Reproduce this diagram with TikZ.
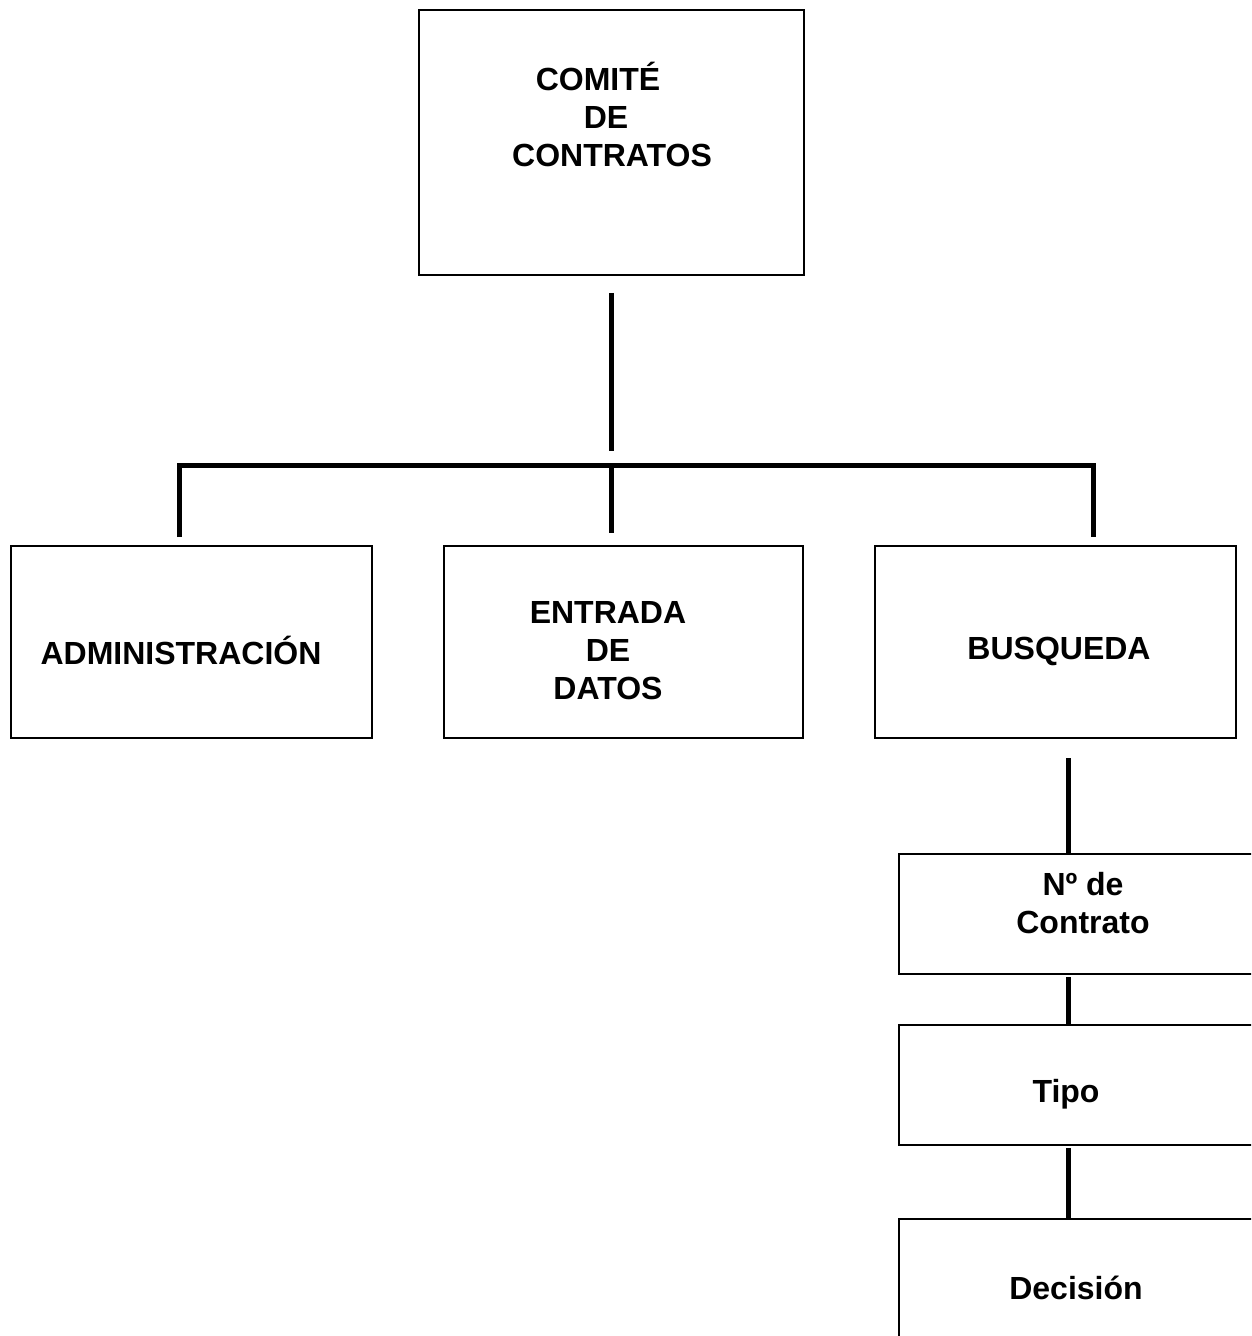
\documentclass[tikz,border=0pt]{standalone}
\usepackage{fontspec}
\setmainfont{Liberation Sans}
\usetikzlibrary{calc}

\begin{document}
\begin{tikzpicture}[
  x=0.5pt, y=-0.5pt,
  box/.style={draw=black, line width=0.8pt, rectangle, inner sep=0pt, fill=white},
  label/.style={font=\bfseries\fontsize{16pt}{19pt}\selectfont, align=center, inner sep=0pt},
  conn/.style={draw=black, line width=2.5pt, line join=miter}
]
  \useasboundingbox (0,0) rectangle (1251,1336);
  \clip (0,0) rectangle (1251,1336);
  \fill[white] (0,0) rectangle (1251,1336);

  % boxes
  \node[box, minimum width=385*0.5pt, minimum height=265*0.5pt] (comite) at (611.5,142.5) {};
  \node[box, minimum width=361*0.5pt, minimum height=192*0.5pt] (admin) at (191.5,642) {};
  \node[box, minimum width=359*0.5pt, minimum height=192*0.5pt] (entrada) at (623.5,642) {};
  \node[box, minimum width=361*0.5pt, minimum height=192*0.5pt] (busqueda) at (1055.5,642) {};
  \node[box, minimum width=369*0.5pt, minimum height=120*0.5pt] (contrato) at (1083.5,914) {};
  \node[box, minimum width=369*0.5pt, minimum height=120*0.5pt] (tipo) at (1083.5,1085) {};
  \node[box, minimum width=369*0.5pt, minimum height=120*0.5pt] (decision) at (1083.5,1279) {};

  % box texts
  \node[label] (comiteT) at (606,114) {COMITÉ\hspace*{8pt}\\DE\\\hspace*{6pt}CONTRATOS};
  \node[label] (adminT) at (181,650) {ADMINISTRACIÓN};
  \node[label] (entradaT) at (608,651) {ENTRADA\\DE\\DATOS};
  \node[label] (busquedaT) at (1059,651) {BUSQUEDA};
  \node[label] (contratoT) at (1083,903) {Nº de\\Contrato};
  \node[label] (tipoT) at (1066,1094) {Tipo};
  \node[label] (decisionT) at (1076,1288) {Decisión};

  % connector end points
  \coordinate (c0) at (611,293);
  \coordinate (c1) at (611,451);
  \coordinate (bl) at (179,537);
  \coordinate (blc) at (179,465);
  \coordinate (brc) at (1093,465);
  \coordinate (br) at (1093,537);
  \coordinate (bm) at (611,465);
  \coordinate (bmd) at (611,533);
  \coordinate (s0) at (1068,758);
  \coordinate (s1) at (1068,854);
  \coordinate (s2) at (1068,977);
  \coordinate (s3) at (1068,1025);
  \coordinate (s4) at (1068,1148);
  \coordinate (s5) at (1068,1219);

  % connectors
  \draw[conn] (c0) -- (c1);
  \draw[conn] (bl) -- (blc) -- (brc) -- (br);
  \draw[conn] (bm) -- (bmd);
  \draw[conn] (s0) -- (s1);
  \draw[conn] (s2) -- (s3);
  \draw[conn] (s4) -- (s5);
\end{tikzpicture}
\end{document}
